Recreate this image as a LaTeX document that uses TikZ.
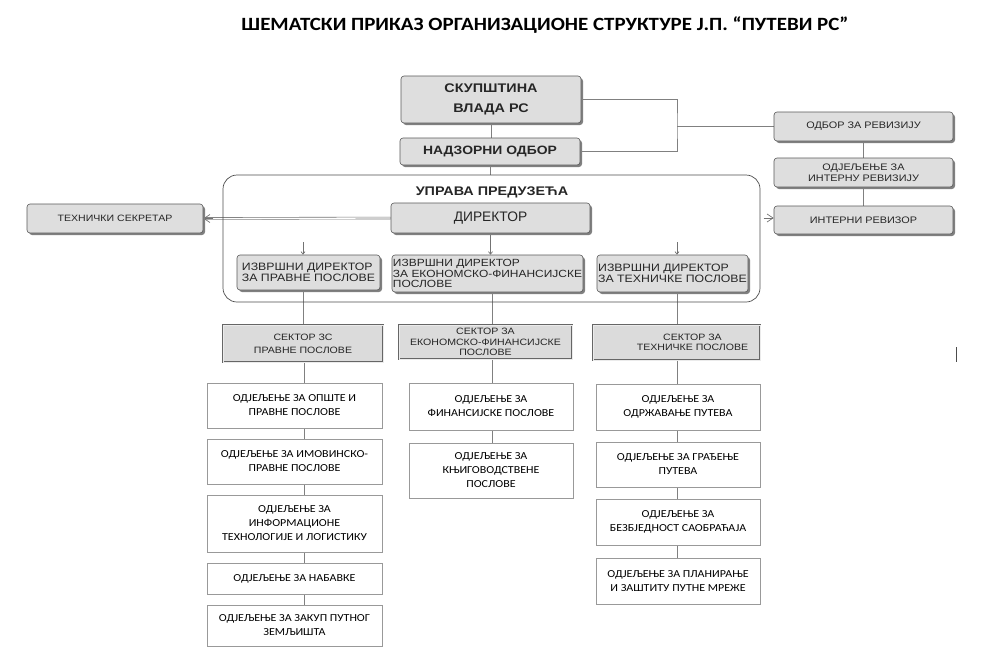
\documentclass[tikz,border=0pt]{standalone}
\usepackage{fontspec}
\setmainfont{Carlito}[FakeStretch=1.12]
\newfontfamily\arialw{Liberation Sans}[FakeStretch=1.15]
\newfontfamily\arialf{Liberation Sans}
\usetikzlibrary{shadows,arrows.meta,backgrounds}
\tikzset{
  gbox/.style={draw=black!65, fill=black!13, rounded corners=3pt, line width=0.6pt,
    drop shadow={shadow xshift=2pt, shadow yshift=-2pt, fill=black!50, opacity=1},
    inner sep=0pt, align=center, text=black!85},
  sbox/.style={draw=black!60, double=black!8, double distance=0.9pt, line width=0.8pt,
    fill=black!14, inner sep=0pt, align=center, text=black!85},
  wbox/.style={draw=black!40, fill=white, line width=0.7pt, inner sep=0pt, align=center,
    font=\fontsize{10.7}{14}\selectfont},
  conn/.style={draw=black!50, line width=0.8pt},
  dbl/.style={draw=black!55, double=white, double distance=1.3pt, line width=0.6pt},
  bigtip/.style={draw=black!55, line width=0.7pt, -{Straight Barb[length=6pt,width=8pt]}},
  smalltip/.style={draw=black!55, line width=0.7pt, -{Straight Barb[length=2.5pt,width=4pt]}},
  sidef/.style={font=\arialw\fontsize{9.2}{10.5}\selectfont},
  execf/.style={font=\arialw\fontsize{10.7}{11.5}\selectfont},
  secf/.style={font=\arialw\fontsize{9.2}{10.5}\selectfont},
}
\begin{document}
\begin{tikzpicture}[x=1pt,y=-1pt]
\useasboundingbox (0,0) rectangle (985,662);
% title
\node[font=\bfseries\fontsize{18.7}{22}\selectfont] (title) at (545,25)
  {ШЕМАТСКИ ПРИКАЗ ОРГАНИЗАЦИОНЕ СТРУКТУРЕ Ј.П. “ПУТЕВИ РС”};
% outer management frame
\node[draw=black!70, line width=0.7pt, rounded corners=14pt, minimum width=537pt,
  minimum height=127pt, inner sep=0pt] (upr) at (491.5,238.5) {};
\node[font=\arialw\bfseries\fontsize{12.5}{15}\selectfont, text=black!85] (uprl) at (492,192) {УПРАВА ПРЕДУЗЕЋА};
% top boxes
\node[gbox, font=\arialw\bfseries\fontsize{12.5}{20}\selectfont, minimum width=180pt, minimum height=47pt] (skup) at (491,99.5) {СКУПШТИНА\\ВЛАДА РС};
\node[gbox, font=\arialw\bfseries\fontsize{12.1}{15}\selectfont, minimum width=180pt, minimum height=27pt] (nadz) at (490,151.5) {НАДЗОРНИ ОДБОР};
\node[gbox, font=\arialf\fontsize{13.8}{15}\selectfont, minimum width=199pt, minimum height=30pt] (dir) at (490.5,218) {ДИРЕКТОР};
\node[gbox, sidef, minimum width=176pt, minimum height=29pt] (tech) at (115,218.5) {ТЕХНИЧКИ СЕКРЕТАР};
\node[gbox, sidef, font=\arialw\fontsize{9.45}{10.5}\selectfont, minimum width=179pt, minimum height=29pt] (odbor) at (863.5,126.5) {ОДБОР ЗА РЕВИЗИЈУ};
\node[gbox, sidef, font=\arialw\fontsize{9.45}{10.5}\selectfont, minimum width=179pt, minimum height=29pt] (odjint) at (863.5,172.5) {ОДЈЕЉЕЊЕ ЗА\\ИНТЕРНУ РЕВИЗИЈУ};
\node[gbox, sidef, font=\arialw\fontsize{9.45}{10.5}\selectfont, minimum width=179pt, minimum height=28pt] (intrev) at (863.5,220) {ИНТЕРНИ РЕВИЗОР};
% executive directors
\node[gbox, execf, align=left, minimum width=143pt, minimum height=35pt] (exL) at (308.5,272.5) {ИЗВРШНИ ДИРЕКТОР\\ЗА ПРАВНЕ ПОСЛОВЕ};
\node[gbox, execf, font=\arialw\fontsize{10.4}{10.5}\selectfont, align=left, minimum width=191pt, minimum height=37pt] (exE) at (487.5,273.5) {ИЗВРШНИ ДИРЕКТОР\\ЗА ЕКОНОМСКО-ФИНАНСИЈСКЕ\\ПОСЛОВЕ};
\node[gbox, execf, align=left, minimum width=151pt, minimum height=37pt] (exT) at (672.5,273.5) {ИЗВРШНИ ДИРЕКТОР\\ЗА ТЕХНИЧКЕ ПОСЛОВЕ};
% sectors
\node[sbox, secf, minimum width=160pt, minimum height=37pt] (secL) at (303,343.5) {СЕКТОР ЗС\\[2.5pt]ПРАВНЕ ПОСЛОВЕ};
\node[sbox, secf, minimum width=173pt, minimum height=34pt] (secE) at (485.5,342) {СЕКТОР ЗА\\ЕКОНОМСКО-ФИНАНСИЈСКЕ\\ПОСЛОВЕ};
\node[sbox, secf, minimum width=167pt, minimum height=35pt] (secT) at (676.5,342.5) {\hspace*{32pt}СЕКТОР ЗА\\\hspace*{32pt}ТЕХНИЧКЕ ПОСЛОВЕ};
% departments left
\node[wbox, minimum width=175pt, minimum height=45pt] (L1) at (294.5,405.5) {ОДЈЕЉЕЊЕ ЗА ОПШТЕ И\\ПРАВНЕ ПОСЛОВЕ};
\node[wbox, minimum width=175pt, minimum height=45pt] (L2) at (294.5,461.5) {ОДЈЕЉЕЊЕ ЗА ИМОВИНСКО-\\ПРАВНЕ ПОСЛОВЕ};
\node[wbox, minimum width=175pt, minimum height=57pt] (L3) at (294.5,523.5) {ОДЈЕЉЕЊЕ ЗА\\ИНФОРМАЦИОНЕ\\ТЕХНОЛОГИЈЕ И ЛОГИСТИКУ};
\node[wbox, minimum width=175pt, minimum height=31pt] (L4) at (294.5,578.5) {ОДЈЕЉЕЊЕ ЗА НАБАВКЕ};
\node[wbox, minimum width=175pt, minimum height=41pt] (L5) at (294.5,625.5) {ОДЈЕЉЕЊЕ ЗА ЗАКУП ПУТНОГ\\ЗЕМЉИШТА};
% departments middle
\node[wbox, minimum width=164pt, minimum height=47pt] (M1) at (491,406.5) {ОДЈЕЉЕЊЕ ЗА\\ФИНАНСИЈСКЕ ПОСЛОВЕ};
\node[wbox, minimum width=164pt, minimum height=55pt] (M2) at (491,470.5) {ОДЈЕЉЕЊЕ ЗА\\КЊИГОВОДСТВЕНЕ\\ПОСЛОВЕ};
% departments right
\node[wbox, minimum width=164pt, minimum height=46pt] (R1) at (678,407) {ОДЈЕЉЕЊЕ ЗА\\ОДРЖАВАЊЕ ПУТЕВА};
\node[wbox, minimum width=164pt, minimum height=45pt] (R2) at (678,464.5) {ОДЈЕЉЕЊЕ ЗА ГРАЂЕЊЕ\\ПУТЕВА};
\node[wbox, minimum width=164pt, minimum height=46pt] (R3) at (678,522) {ОДЈЕЉЕЊЕ ЗА\\БЕЗБЈЕДНОСТ САОБРАЋАЈА};
\node[wbox, minimum width=164pt, minimum height=46pt] (R4) at (678,581) {ОДЈЕЉЕЊЕ ЗА ПЛАНИРАЊЕ\\И ЗАШТИТУ ПУТНЕ МРЕЖЕ};
% helper coordinates
\coordinate (brk) at (677,126.5);
\coordinate (barL) at (303,242);
\coordinate (barR) at (677,242);
\coordinate (cL) at (304,0);
\coordinate (cM) at (492,0);
\coordinate (cR) at (677,0);
\begin{scope}[on background layer]
% connectors top
\draw[conn] (skup.south) -- (skup.south |- nadz.north);
\draw[conn] (nadz.south) -- (nadz.south |- upr.north);
\draw[conn] (skup.east) -| (brk) |- (nadz.east);
\draw[conn] (brk) -- (odbor.west);
\draw[conn] (odbor.south) -- (odjint.north);
\draw[conn] (odjint.south) -- (intrev.north);
% director side arrows
\draw[dbl] (dir.west) -- (tech.east);
\draw[bigtip] ([xshift=10pt]tech.east) -- (tech.east);
\draw[dbl] (dir.east) -- (dir.east -| intrev.west);
\draw[bigtip] ([xshift=-10pt]dir.east -| intrev.west) -- (dir.east -| intrev.west);
% distribution bar
\draw[dbl] (barL) -- (barR);
\draw[smalltip] (dir.south) -- (dir.south |- exE.north);
\draw[smalltip] (barL) -- (barL |- exL.north);
\draw[smalltip] (barR) -- (barR |- exT.north);
% exec to sectors
\draw[conn] (secL.north |- exL.south) -- (secL.north);
\draw[conn] (cM |- exE.south) -- (cM |- secE.north);
\draw[conn] (cR |- exT.south) -- (cR |- secT.north);
% sectors to departments
\draw[conn] (cL |- secL.south) -- (cL |- L1.north);
\draw[conn] (cL |- L1.south) -- (cL |- L2.north);
\draw[conn] (cL |- L2.south) -- (cL |- L3.north);
\draw[conn] (cL |- L3.south) -- (cL |- L4.north);
\draw[conn] (cL |- L4.south) -- (cL |- L5.north);
\draw[conn] (cM |- secE.south) -- (cM |- M1.north);
\draw[conn] (cM |- M1.south) -- (cM |- M2.north);
\draw[conn] (cR |- secT.south) -- (cR |- R1.north);
\draw[conn] (cR |- R1.south) -- (cR |- R2.north);
\draw[conn] (cR |- R2.south) -- (cR |- R3.north);
\draw[conn] (cR |- R3.south) -- (cR |- R4.north);
\end{scope}
% stray mark at right
\draw[black!70, line width=0.8pt] (956,347) -- (956,362);
\end{tikzpicture}
\end{document}
